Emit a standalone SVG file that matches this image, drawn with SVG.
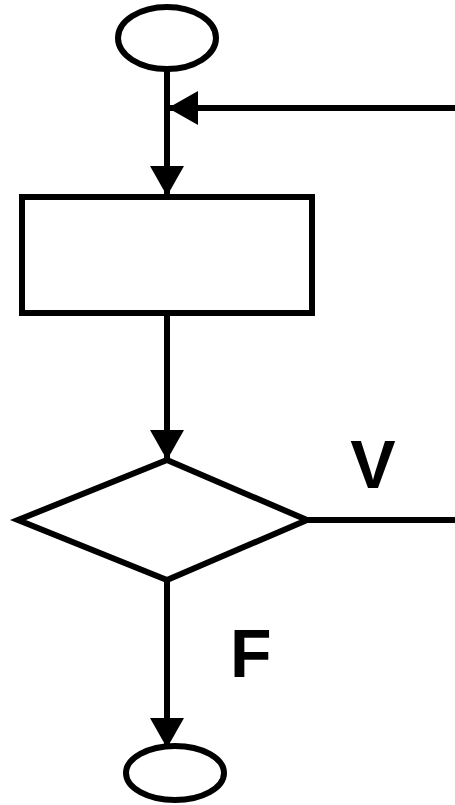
<svg xmlns="http://www.w3.org/2000/svg" width="455" height="805" viewBox="0 0 455 805">
  <style>
    .shape { fill: #ffffff; stroke: #000000; stroke-width: 6; }
    .edge { fill: none; stroke: #000000; stroke-width: 6; }
    .label { font-family: "Liberation Sans", Arial, sans-serif; font-weight: bold; font-size: 68px; fill: #000000; }
  </style>
  <defs>
    <marker id="arrow" viewBox="0 0 30 34" refX="30" refY="17" markerWidth="30" markerHeight="34" markerUnits="userSpaceOnUse" orient="auto">
      <path d="M0,0 L30,17 L0,34 Z" fill="#000000"/>
    </marker>
  </defs>

  <g id="connectors">
    <line class="edge" x1="167" y1="70" x2="167" y2="196" marker-end="url(#arrow)"/>
    <line class="edge" x1="455" y1="108" x2="168" y2="108" marker-end="url(#arrow)"/>
    <line class="edge" x1="167" y1="313" x2="167" y2="460" marker-end="url(#arrow)"/>
    <line class="edge" x1="307" y1="520" x2="455" y2="520"/>
    <line class="edge" x1="167" y1="580" x2="167" y2="748" marker-end="url(#arrow)"/>
  </g>

  <g id="start">
    <ellipse class="shape" cx="167" cy="38" rx="49" ry="31"/>
  </g>

  <g id="process">
    <rect class="shape" x="22" y="197" width="290" height="116"/>
  </g>

  <g id="decision">
    <polygon class="shape" points="167,460 307,520 167,580 18,520"/>
    <text class="label" x="373" y="488" text-anchor="middle">V</text>
    <text class="label" x="230" y="677">F</text>
  </g>

  <g id="end">
    <ellipse class="shape" cx="175" cy="773" rx="49" ry="27"/>
  </g>
</svg>
